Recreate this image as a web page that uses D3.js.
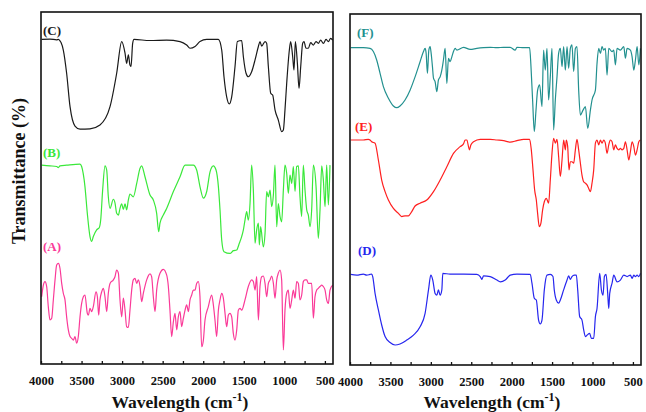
<!DOCTYPE html>
<html>
<head>
<meta charset="utf-8">
<script src="https://cdn.jsdelivr.net/npm/d3@7/dist/d3.min.js"></script>
<style>
  html, body { margin: 0; padding: 0; background: #fff; }
  svg { display: block; }
  text { font-family: "Liberation Serif", "Times New Roman", serif; font-weight: bold; }
</style>
</head>
<body>
<svg id="chart" width="646" height="412"></svg>
<script>
// FTIR spectra: [wavenumber (cm-1), stacked transmittance (%)]
const specC = [[3992,92.2],[3889,92.3],[3807,92.1],[3786,92.2],[3766,91.8],[3753,91.3],[3725,89.2],[3684,82.6],[3642,73.1],[3581,67.6],[3519,66.7],[3396,66.8],[3273,67.9],[3149,73.1],[3067,82.6],[3005,91.6],[2964,88.3],[2944,85.4],[2923,87.8],[2903,84.9],[2890,84.5],[2870,91.1],[2853,92.2],[2656,91.9],[2451,92.0],[2286,91.6],[2204,90.6],[2163,89.7],[2101,90.2],[2040,91.6],[1957,92.2],[1814,92.2],[1772,89.2],[1744,81.6],[1711,75.9],[1678,73.9],[1649,75.9],[1608,84.5],[1579,91.6],[1526,91.9],[1505,87.3],[1472,82.6],[1444,81.6],[1403,83.0],[1361,86.4],[1320,90.2],[1300,91.6],[1279,90.3],[1238,91.6],[1218,91.1],[1197,84.5],[1168,76.9],[1144,76.4],[1115,72.2],[1074,69.3],[1033,66.0],[1012,66.5],[992,72.2],[971,79.7],[938,89.2],[922,91.6],[897,87.3],[881,83.5],[864,91.6],[839,85.4],[819,78.3],[798,84.5],[774,91.1],[757,91.6],[733,89.7],[704,89.7],[675,91.3],[642,90.6],[609,91.6],[581,91.1],[552,92.0],[519,91.1],[486,92.2],[457,91.6],[429,92.5],[404,92.0]];

const specB = [[3992,56.5],[3889,56.3],[3807,56.1],[3786,55.8],[3766,56.3],[3684,56.5],[3519,56.8],[3499,56.1],[3458,50.4],[3429,42.8],[3396,36.2],[3375,34.8],[3355,36.2],[3314,38.1],[3281,38.8],[3264,40.9],[3240,49.4],[3211,56.3],[3190,55.1],[3170,47.5],[3149,44.2],[3108,46.8],[3088,45.8],[3067,42.8],[3046,42.3],[3026,44.2],[3005,45.5],[2985,43.9],[2964,45.5],[2944,43.8],[2923,46.6],[2903,48.3],[2862,47.5],[2820,51.3],[2779,55.6],[2759,56.3],[2718,53.2],[2656,48.0],[2615,46.6],[2574,42.8],[2549,37.6],[2533,40.0],[2492,42.3],[2451,44.2],[2368,49.0],[2286,53.2],[2224,56.5],[2122,56.5],[2081,55.1],[2040,50.4],[1998,47.1],[1957,49.0],[1916,54.6],[1875,56.3],[1842,55.1],[1813,50.4],[1793,43.8],[1772,35.2],[1744,31.9],[1670,31.4],[1629,32.2],[1587,32.4],[1555,34.3],[1526,36.2],[1505,38.1],[1485,40.9],[1464,43.3],[1444,40.9],[1423,45.6],[1403,56.5],[1382,49.4],[1361,34.3],[1341,38.1],[1320,40.0],[1308,33.8],[1292,39.0],[1259,33.3],[1238,37.1],[1218,49.0],[1197,47.5],[1176,49.4],[1156,44.7],[1135,48.0],[1115,56.5],[1094,39.0],[1074,45.6],[1053,41.9],[1033,40.4],[1012,49.4],[992,56.5],[971,54.2],[951,48.5],[930,53.7],[909,51.3],[889,56.1],[868,49.0],[848,56.1],[827,56.3],[807,47.5],[786,41.9],[766,56.5],[745,49.4],[724,43.8],[704,42.3],[683,39.0],[663,43.8],[642,56.5],[609,50.4],[581,35.7],[560,43.8],[539,56.3],[519,52.3],[498,44.7],[478,56.5],[457,45.2],[437,56.5]];

const specA = [[3992,19.1],[3971,22.4],[3951,23.4],[3930,22.0],[3910,16.3],[3889,12.5],[3868,13.0],[3848,18.2],[3827,23.9],[3807,28.1],[3786,28.6],[3766,27.2],[3745,22.9],[3725,20.1],[3704,18.2],[3684,13.4],[3663,9.7],[3642,7.8],[3622,7.3],[3601,6.8],[3581,7.8],[3560,5.9],[3540,7.8],[3519,13.4],[3499,17.2],[3478,19.1],[3458,19.6],[3429,14.4],[3416,13.9],[3396,15.8],[3375,14.9],[3355,16.3],[3322,20.5],[3305,19.1],[3289,13.9],[3273,18.2],[3252,20.5],[3231,21.5],[3211,19.1],[3190,14.9],[3170,20.1],[3149,22.9],[3108,23.9],[3088,24.8],[3067,26.7],[3046,25.8],[3026,18.2],[3005,13.4],[2985,18.7],[2964,15.3],[2944,10.6],[2923,10.4],[2903,15.3],[2882,21.0],[2862,23.9],[2841,24.3],[2820,22.9],[2800,23.9],[2779,22.0],[2759,17.7],[2738,20.1],[2697,23.9],[2656,25.6],[2636,24.8],[2615,19.1],[2594,14.9],[2574,21.0],[2533,25.8],[2492,26.9],[2451,25.3],[2430,22.0],[2410,15.3],[2389,7.8],[2368,12.0],[2348,14.4],[2327,9.7],[2307,13.4],[2286,14.9],[2266,10.6],[2245,13.0],[2224,15.3],[2204,16.8],[2183,14.9],[2163,18.2],[2142,19.6],[2122,21.0],[2101,21.0],[2081,22.9],[2060,23.4],[2040,19.1],[2019,4.9],[1998,6.8],[1978,12.5],[1937,16.3],[1896,19.6],[1875,16.8],[1855,12.5],[1834,7.8],[1813,15.3],[1793,18.2],[1772,20.1],[1752,18.7],[1731,14.4],[1711,10.6],[1690,13.9],[1670,14.4],[1649,13.4],[1629,8.7],[1608,6.8],[1587,9.7],[1567,15.3],[1546,15.8],[1526,15.3],[1485,18.2],[1444,22.0],[1403,23.9],[1382,23.4],[1361,21.0],[1341,24.8],[1320,12.5],[1300,22.0],[1279,24.8],[1259,25.0],[1238,22.9],[1218,19.1],[1197,22.9],[1176,23.9],[1156,25.0],[1135,22.9],[1115,18.7],[1094,23.9],[1074,25.8],[1053,26.7],[1033,23.9],[1012,4.0],[992,15.3],[971,20.1],[951,21.0],[930,15.8],[909,18.2],[889,21.0],[868,18.7],[848,23.4],[827,22.9],[807,18.2],[786,19.6],[766,23.4],[745,23.9],[724,23.9],[704,22.9],[663,22.9],[642,13.0],[622,19.1],[601,21.0],[581,21.5],[560,22.0],[539,22.4],[519,22.0],[498,21.0],[478,18.2],[457,17.2],[437,21.0],[405,22.4]];

const specF = [[3992,90.4],[3835,90.4],[3752,90.2],[3711,89.3],[3670,86.9],[3628,83.1],[3587,79.3],[3525,76.0],[3463,73.8],[3422,73.3],[3381,73.8],[3319,75.5],[3257,78.3],[3195,82.1],[3133,86.4],[3091,89.3],[3071,90.2],[3058,88.8],[3042,83.1],[3025,89.7],[3009,90.7],[2996,88.8],[2980,85.0],[2967,81.7],[2947,80.7],[2926,77.9],[2906,81.2],[2885,82.1],[2864,84.0],[2844,86.9],[2823,90.2],[2802,80.2],[2782,87.4],[2761,86.4],[2740,87.8],[2720,89.3],[2699,90.2],[2678,89.7],[2596,90.5],[2513,89.9],[2431,90.2],[2348,90.4],[2265,90.5],[2183,90.4],[2100,90.5],[2018,90.5],[1956,89.7],[1935,90.5],[1852,90.4],[1778,90.4],[1761,85.0],[1741,75.5],[1720,66.5],[1699,72.6],[1679,78.3],[1654,79.8],[1625,73.6],[1605,89.7],[1584,84.0],[1563,90.2],[1543,75.5],[1522,82.1],[1501,90.2],[1481,67.0],[1460,75.5],[1439,82.1],[1419,88.8],[1398,90.2],[1377,85.0],[1357,90.7],[1336,84.0],[1315,90.7],[1295,84.5],[1274,90.2],[1254,91.2],[1233,83.6],[1212,90.2],[1192,90.7],[1171,78.3],[1150,71.2],[1117,72.6],[1088,73.6],[1059,67.4],[1026,72.6],[1006,75.5],[964,78.3],[944,85.9],[923,90.2],[902,88.8],[882,90.7],[861,89.7],[841,90.2],[820,82.6],[799,90.2],[758,89.3],[737,89.7],[717,85.5],[696,90.2],[655,89.7],[613,90.7],[593,87.4],[572,90.2],[531,89.7],[510,87.8],[489,84.0],[469,86.9],[448,90.7],[427,85.5],[407,90.2]];

const specE = [[3992,64.1],[3835,64.1],[3773,64.3],[3752,64.1],[3732,63.6],[3690,63.2],[3649,58.4],[3608,52.7],[3566,49.4],[3525,47.0],[3463,44.6],[3401,43.2],[3360,42.3],[3319,42.5],[3277,42.5],[3236,43.7],[3195,45.3],[3133,46.1],[3050,47.0],[2967,49.4],[2885,52.7],[2802,56.5],[2720,60.3],[2637,62.2],[2596,63.0],[2575,64.1],[2554,64.1],[2534,62.2],[2522,61.3],[2505,62.7],[2472,63.6],[2389,64.3],[2265,64.3],[2183,64.1],[2100,63.9],[2018,63.5],[1935,63.9],[1852,64.3],[1778,64.3],[1757,61.3],[1736,55.6],[1716,49.9],[1695,47.0],[1679,43.2],[1658,39.4],[1638,40.4],[1617,44.2],[1596,46.5],[1571,47.5],[1543,46.1],[1522,52.7],[1501,60.3],[1481,64.6],[1460,63.2],[1439,64.3],[1419,59.4],[1398,53.7],[1377,58.4],[1357,64.1],[1336,61.3],[1324,64.1],[1307,62.2],[1291,55.6],[1274,57.9],[1254,57.9],[1233,57.5],[1212,61.3],[1192,64.3],[1171,61.3],[1150,57.5],[1130,54.1],[1109,52.2],[1088,51.8],[1068,51.3],[1047,50.3],[1026,49.4],[1006,51.8],[985,55.6],[964,63.2],[944,64.1],[923,62.7],[902,64.1],[882,63.2],[861,64.1],[841,63.2],[820,60.3],[799,62.7],[779,64.1],[758,63.6],[737,61.3],[717,62.7],[696,61.7],[675,61.3],[655,61.7],[634,61.3],[613,61.7],[593,63.6],[572,61.3],[551,58.4],[531,60.8],[510,63.6],[489,62.2],[469,59.8],[448,61.3],[427,63.6],[407,64.1]];

const specD = [[3992,25.8],[3917,25.6],[3835,25.9],[3794,25.6],[3752,25.8],[3732,25.9],[3719,25.2],[3690,20.4],[3649,15.7],[3608,11.4],[3566,8.1],[3504,6.4],[3442,5.7],[3381,6.0],[3298,7.1],[3215,8.5],[3133,10.9],[3071,14.7],[3029,21.4],[3000,25.6],[2976,24.2],[2947,20.4],[2926,19.9],[2906,21.4],[2885,19.9],[2864,21.4],[2852,26.1],[2761,25.9],[2596,25.9],[2431,25.8],[2389,25.2],[2369,24.4],[2348,25.4],[2265,25.2],[2183,24.2],[2141,23.7],[2080,24.2],[2018,25.6],[1935,25.9],[1770,25.8],[1749,23.3],[1720,19.0],[1695,18.5],[1667,12.8],[1646,11.7],[1625,12.8],[1596,21.4],[1563,25.6],[1522,25.8],[1489,25.2],[1473,21.4],[1448,18.5],[1419,17.6],[1398,18.5],[1357,21.4],[1315,24.2],[1295,25.4],[1274,24.4],[1254,25.2],[1225,25.6],[1200,25.6],[1183,21.4],[1159,13.8],[1130,12.8],[1109,10.0],[1088,8.1],[1068,8.5],[1035,9.0],[1014,7.6],[985,7.6],[964,13.8],[944,16.1],[911,26.1],[890,21.4],[869,19.9],[853,25.2],[832,25.8],[812,20.4],[799,16.1],[787,20.4],[758,23.3],[737,25.6],[696,23.7],[655,24.2],[613,25.6],[572,25.2],[531,25.6],[510,24.7],[489,25.6],[469,25.2],[448,25.6],[427,25.2],[407,26.1]];

const majorTicks = [4000, 3500, 3000, 2500, 2000, 1500, 1000, 500];
const minorTicks = [3750, 3250, 2750, 2250, 1750, 1250, 750];

const panels = [
  { box: { left: 41, right: 333, top: 12, bottom: 364 },
    titleX: 180,
    series: [
      { name: "(C)", data: specC, color: "#1a1a1a", lx: 43, ly: 35 },
      { name: "(B)", data: specB, color: "#3ae83a", lx: 43, ly: 157 },
      { name: "(A)", data: specA, color: "#fa3a98", lx: 43, ly: 251 }
    ] },
  { box: { left: 350, right: 641, top: 14, bottom: 365 },
    titleX: 492,
    series: [
      { name: "(F)", data: specF, color: "#22908f", lx: 357, ly: 37 },
      { name: "(E)", data: specE, color: "#ff2020", lx: 355, ly: 131 },
      { name: "(D)", data: specD, color: "#2626ee", lx: 358, ly: 255 }
    ] }
];

const svg = d3.select("#chart");
svg.append("rect").attr("width", 646).attr("height", 412).attr("fill", "#fff");

panels.forEach(p => {
  const b = p.box;
  const x = d3.scaleLinear().domain([4000, 400]).range([b.left, b.right]);
  const y = d3.scaleLinear().domain([0, 100]).range([b.bottom, b.top]);
  const g = svg.append("g");

  // spectra
  const line = d3.line()
    .x(d => x(d[0]))
    .y(d => y(d[1]))
    .curve(d3.curveMonotoneX);
  p.series.forEach(s => {
    g.append("path")
      .datum(s.data)
      .attr("d", line)
      .attr("fill", "none")
      .attr("stroke", s.color)
      .attr("stroke-width", 1.2)
      .attr("stroke-linejoin", "round");
    g.append("text")
      .attr("x", s.lx).attr("y", s.ly)
      .attr("font-size", 13)
      .attr("fill", s.color)
      .text(s.name);
  });

  // x axis with inward ticks
  const ax = g.append("g")
    .attr("transform", `translate(0,${b.bottom})`)
    .call(d3.axisBottom(x).tickValues(majorTicks).tickSize(-3).tickPadding(12).tickFormat(d3.format("d")));
  ax.select(".domain").remove();
  ax.selectAll("line").attr("stroke", "#111").attr("stroke-width", 1.3);
  ax.selectAll("text")
    .attr("font-size", 12.5)
    .attr("font-family", "Liberation Serif, Times New Roman, serif")
    .attr("font-weight", "bold")
    .attr("fill", "#111");

  const mx = g.append("g")
    .attr("transform", `translate(0,${b.bottom})`)
    .call(d3.axisBottom(x).tickValues(minorTicks).tickSize(-3).tickFormat(""));
  mx.select(".domain").remove();
  mx.selectAll("line").attr("stroke", "#111").attr("stroke-width", 1.3);

  // frame
  g.append("rect")
    .attr("x", b.left).attr("y", b.top)
    .attr("width", b.right - b.left).attr("height", b.bottom - b.top)
    .attr("fill", "none").attr("stroke", "#111").attr("stroke-width", 1.6);

  // axis title
  const t = g.append("text")
    .attr("x", p.titleX).attr("y", 408)
    .attr("text-anchor", "middle")
    .attr("font-size", 17.5)
    .attr("fill", "#111");
  t.append("tspan").text("Wavelength (cm");
  t.append("tspan").attr("dy", -7).attr("font-size", 12).text("-1");
  t.append("tspan").attr("dy", 7).text(")");
});

svg.append("text")
  .attr("transform", "translate(25,171) rotate(-90)")
  .attr("text-anchor", "middle")
  .attr("font-size", 18)
  .attr("fill", "#111")
  .text("Transmittance (%)");
</script>
</body>
</html>
